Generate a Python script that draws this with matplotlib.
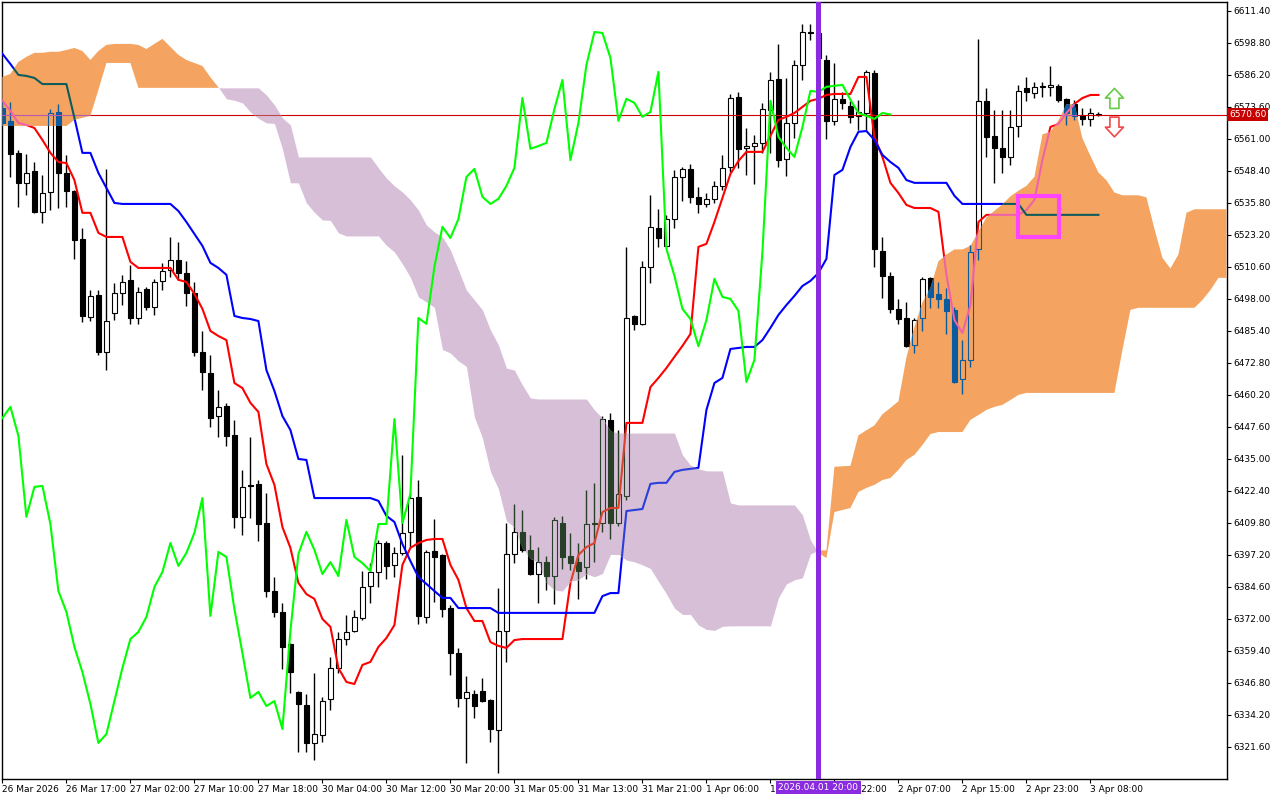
import numpy as np
import matplotlib
matplotlib.use('Agg')
import matplotlib.pyplot as plt
import matplotlib.transforms as mtransforms
from matplotlib.path import Path
from matplotlib.patches import PathPatch, Rectangle

plt.rcParams['font.family'] = 'DejaVu Sans'

# US500 H1 candles, 26 Mar 2026 .. 3 Apr 2026
opens = [6573.2, 6568.1, 6555.5, 6543.7, 6548.4, 6532.3, 6540.1, 6571.6, 6547.6, 6540.5,
         6521.6, 6490.9, 6499.6, 6477.1, 6492.5, 6500.4, 6505.5, 6490.5, 6501.9, 6494.9,
         6505.1, 6509.4, 6513.4, 6508.2, 6500.4, 6477.1, 6468.9, 6451.9, 6455.9, 6444.4,
         6412.2, 6424.8, 6425.2, 6409.8, 6383.0, 6374.8, 6362.2, 6343.3, 6338.1, 6323.2,
         6326.3, 6340.5, 6352.7, 6364.1, 6367.3, 6372.4, 6385.0, 6390.5, 6401.9, 6393.3,
         6398.0, 6406.3, 6420.0, 6372.8, 6398.8, 6397.2, 6376.3, 6358.6, 6340.9, 6342.5,
         6343.7, 6340.1, 6328.3, 6367.3, 6397.6, 6406.3, 6399.2, 6389.7, 6394.4, 6388.9,
         6409.8, 6396.8, 6394.4, 6392.5, 6409.8, 6409.8, 6450.4, 6409.8, 6420.4, 6491.3,
         6488.2, 6510.6, 6526.0, 6518.9, 6529.5, 6546.0, 6549.2, 6538.2, 6535.4, 6537.4,
         6542.5, 6550.0, 6577.5, 6557.5, 6558.2, 6559.4, 6572.4, 6584.6, 6553.1, 6567.3,
         6590.1, 6603.1, 6602.7, 6592.1, 6568.1, 6576.8, 6574.0, 6570.1, 6571.2, 6587.0,
         6516.9, 6507.1, 6494.1, 6490.5, 6479.9, 6490.5, 6506.3, 6500.0, 6498.0, 6493.7,
         6466.5, 6474.0, 6517.7, 6576.0, 6562.2, 6557.5, 6553.9, 6566.1, 6581.1, 6579.1,
         6581.5, 6581.5, 6581.9, 6576.8, 6574.8, 6570.5, 6568.9, 6570.9]
highs = [6576.4, 6575.6, 6556.7, 6555.1, 6551.9, 6546.8, 6572.8, 6574.8, 6554.7, 6541.0,
         6526.0, 6501.5, 6501.5, 6549.2, 6504.3, 6507.5, 6511.4, 6502.7, 6502.7, 6505.9,
         6512.2, 6522.4, 6520.4, 6513.0, 6504.7, 6485.4, 6476.0, 6462.2, 6457.1, 6450.4,
         6430.7, 6443.7, 6426.7, 6421.6, 6388.5, 6378.3, 6362.5, 6343.6, 6342.5, 6350.7,
         6341.3, 6357.0, 6366.9, 6373.6, 6375.5, 6390.9, 6394.0, 6403.1, 6402.7, 6400.3,
         6436.6, 6421.6, 6426.7, 6399.2, 6411.4, 6397.5, 6377.5, 6360.6, 6349.6, 6344.0,
         6348.8, 6340.4, 6384.2, 6409.8, 6417.3, 6414.9, 6405.1, 6400.3, 6396.8, 6412.2,
         6412.6, 6405.9, 6401.9, 6422.8, 6425.6, 6451.9, 6453.1, 6446.4, 6518.5, 6491.6,
         6513.0, 6539.0, 6533.4, 6531.1, 6548.8, 6550.0, 6551.2, 6542.1, 6539.7, 6544.5,
         6554.7, 6578.7, 6579.5, 6565.3, 6562.6, 6575.2, 6587.4, 6598.4, 6585.0, 6592.1,
         6606.3, 6606.3, 6604.0, 6594.1, 6590.9, 6579.5, 6576.0, 6576.4, 6588.2, 6588.2,
         6522.4, 6508.6, 6498.0, 6496.8, 6490.5, 6506.7, 6506.7, 6504.7, 6502.3, 6494.9,
         6481.8, 6519.3, 6600.4, 6581.1, 6572.4, 6572.4, 6572.4, 6582.3, 6585.4, 6583.4,
         6583.4, 6589.7, 6582.7, 6577.1, 6576.4, 6573.2, 6573.2, 6571.6]
lows = [6566.5, 6546.0, 6534.2, 6539.0, 6531.9, 6527.9, 6533.0, 6533.8, 6534.2, 6513.8,
        6488.9, 6489.3, 6476.0, 6470.0, 6489.7, 6495.6, 6488.2, 6488.2, 6493.7, 6491.7,
        6501.5, 6506.7, 6505.5, 6495.2, 6475.6, 6462.2, 6447.6, 6443.7, 6440.1, 6407.8,
        6405.1, 6411.8, 6402.7, 6380.7, 6372.8, 6352.3, 6342.9, 6319.6, 6319.6, 6316.5,
        6323.6, 6336.2, 6350.7, 6361.8, 6366.9, 6371.6, 6378.3, 6384.6, 6387.8, 6388.5,
        6397.2, 6400.3, 6370.0, 6370.4, 6378.7, 6372.8, 6350.0, 6337.4, 6315.3, 6333.0,
        6339.3, 6323.6, 6311.4, 6355.1, 6394.0, 6398.4, 6389.3, 6378.3, 6383.4, 6377.9,
        6391.7, 6391.3, 6379.9, 6387.8, 6394.4, 6406.3, 6403.5, 6408.6, 6418.9, 6485.8,
        6487.8, 6504.3, 6518.5, 6518.5, 6526.0, 6536.6, 6535.8, 6531.9, 6534.2, 6535.8,
        6540.9, 6548.0, 6549.6, 6546.8, 6543.3, 6555.5, 6555.5, 6550.0, 6546.4, 6561.4,
        6584.2, 6600.0, 6590.1, 6561.0, 6566.5, 6572.8, 6567.3, 6564.5, 6564.5, 6510.6,
        6498.4, 6492.5, 6488.2, 6479.1, 6476.7, 6485.4, 6494.5, 6494.5, 6484.2, 6464.9,
        6460.6, 6471.2, 6513.4, 6553.9, 6543.7, 6547.6, 6550.8, 6561.8, 6576.0, 6577.1,
        6577.5, 6577.9, 6575.6, 6566.5, 6568.5, 6566.5, 6566.1, 6570.1]
closes = [6567.3, 6555.1, 6543.7, 6547.6, 6532.3, 6539.7, 6571.2, 6547.6, 6540.5, 6521.2,
          6491.3, 6499.2, 6477.1, 6489.3, 6500.4, 6504.7, 6490.5, 6500.8, 6494.9, 6504.7,
          6509.0, 6513.4, 6508.2, 6500.4, 6477.1, 6469.3, 6451.1, 6455.5, 6444.1, 6412.2,
          6424.0, 6424.4, 6409.4, 6383.0, 6374.8, 6361.0, 6351.1, 6338.5, 6323.2, 6326.7,
          6339.7, 6352.7, 6364.1, 6366.9, 6372.8, 6384.6, 6390.5, 6401.9, 6392.9, 6398.0,
          6405.9, 6419.6, 6373.2, 6398.4, 6396.4, 6375.9, 6358.6, 6340.9, 6343.3, 6337.7,
          6339.7, 6328.7, 6367.3, 6397.6, 6406.3, 6399.2, 6389.7, 6394.4, 6388.9, 6411.0,
          6396.4, 6394.0, 6390.9, 6409.4, 6409.4, 6450.7, 6409.8, 6421.2, 6490.5, 6488.2,
          6510.6, 6526.4, 6522.0, 6529.5, 6546.0, 6549.2, 6538.2, 6535.4, 6537.4, 6542.5,
          6549.6, 6577.1, 6557.1, 6558.2, 6559.4, 6572.8, 6584.2, 6552.7, 6567.3, 6590.1,
          6603.1, 6602.7, 6592.9, 6568.1, 6576.8, 6575.2, 6569.7, 6571.6, 6587.4, 6517.7,
          6507.1, 6494.1, 6490.1, 6479.4, 6489.7, 6505.9, 6498.8, 6498.0, 6493.3, 6465.3,
          6474.0, 6516.5, 6576.0, 6561.8, 6557.5, 6553.9, 6565.7, 6579.9, 6579.5, 6581.5,
          6581.9, 6582.3, 6576.4, 6571.2, 6570.1, 6568.9, 6571.2, 6570.6]

# Ichimoku lines
tenkan = [6576.0, 6572.0, 6567.3, 6566.5, 6565.3, 6560.6, 6555.5, 6551.9, 6551.5, 6544.8,
          6531.9, 6531.9, 6524.0, 6522.4, 6522.4, 6522.4, 6512.6, 6510.2, 6510.2, 6510.2,
          6510.2, 6510.2, 6505.5, 6504.7, 6500.0, 6494.1, 6485.4, 6483.4, 6481.8, 6464.9,
          6462.9, 6457.1, 6453.5, 6433.0, 6424.8, 6408.2, 6400.0, 6386.2, 6381.8, 6379.9,
          6372.0, 6368.9, 6352.7, 6347.2, 6346.4, 6353.9, 6355.1, 6361.0, 6364.5, 6369.6,
          6393.3, 6400.0, 6401.9, 6403.1, 6403.5, 6403.5, 6393.3, 6387.4, 6376.3, 6371.2,
          6371.2, 6362.9, 6361.4, 6360.6, 6363.7, 6364.1, 6364.1, 6364.1, 6364.1, 6364.1,
          6364.1, 6386.2, 6397.2, 6400.3, 6401.9, 6414.1, 6415.7, 6415.7, 6449.2, 6449.2,
          6449.2, 6463.3, 6466.9, 6470.8, 6475.2, 6479.5, 6484.2, 6518.5, 6519.7, 6528.3,
          6537.8, 6547.2, 6552.3, 6555.9, 6555.9, 6555.9, 6562.2, 6568.5, 6569.7, 6571.2,
          6573.6, 6576.0, 6576.8, 6578.3, 6578.7, 6578.7, 6578.7, 6585.4, 6585.4, 6561.8,
          6553.9, 6543.7, 6539.7, 6535.0, 6533.8, 6533.8, 6533.8, 6532.3, 6507.5, 6489.7,
          6484.6, 6495.6, 6528.3, 6531.1, 6531.1, 6531.1, 6531.1, 6531.1, 6533.0, 6537.0,
          6552.7, 6565.7, 6566.9, 6571.2, 6574.8, 6577.1, 6578.3, 6578.3]
kijun = [6594.5, 6590.5, 6586.2, 6585.8, 6585.0, 6582.6, 6582.6, 6582.6, 6582.6, 6569.3,
         6555.5, 6555.5, 6547.6, 6541.7, 6535.8, 6535.4, 6535.4, 6535.4, 6535.4, 6535.4,
         6535.4, 6535.4, 6532.6, 6528.3, 6523.6, 6518.9, 6512.2, 6510.2, 6507.5, 6491.3,
         6490.5, 6490.1, 6489.3, 6470.0, 6461.8, 6451.9, 6446.4, 6435.0, 6434.6, 6419.6,
         6419.6, 6419.6, 6419.6, 6419.6, 6419.6, 6419.6, 6419.6, 6418.5, 6412.6, 6410.2,
         6401.5, 6394.8, 6388.5, 6385.8, 6383.0, 6380.3, 6380.3, 6376.3, 6376.3, 6376.3,
         6376.3, 6376.3, 6374.4, 6374.4, 6374.4, 6374.4, 6374.4, 6374.4, 6374.4, 6374.4,
         6374.4, 6374.4, 6374.4, 6374.4, 6374.4, 6381.0, 6382.2, 6382.2, 6414.5, 6414.9,
         6415.3, 6425.2, 6425.6, 6425.6, 6429.9, 6430.7, 6431.1, 6431.5, 6454.3, 6464.9,
         6466.9, 6478.3, 6478.7, 6479.1, 6479.1, 6481.8, 6486.6, 6491.7, 6495.6, 6499.2,
         6503.1, 6505.1, 6508.2, 6513.8, 6546.8, 6548.8, 6557.8, 6563.8, 6564.1, 6560.6,
         6554.7, 6551.9, 6549.6, 6544.8, 6543.7, 6543.7, 6543.7, 6543.7, 6543.7, 6538.6,
         6535.4, 6535.4, 6535.4, 6535.4, 6535.4, 6535.4, 6535.4, 6535.4, 6531.1, 6531.1,
         6531.1, 6531.1, 6531.1, 6531.1, 6531.1, 6531.1, 6531.1, 6531.1]
# Senkou spans, 26 bars ahead of the last candle (bars 0..153 on screen)
span_a = [6585.4, 6586.6, 6591.3, 6593.3, 6594.9, 6594.9, 6595.3, 6595.3, 6596.0, 6596.8,
          6595.6, 6592.1, 6595.6, 6598.0, 6598.4, 6598.4, 6598.4, 6598.0, 6596.4, 6598.4,
          6600.4, 6597.2, 6594.1, 6592.1, 6590.9, 6589.7,
          6585.3, 6581.3, 6576.8, 6576.2, 6575.2, 6571.6, 6569.1, 6567.3, 6567.1, 6557.1,
          6543.7, 6543.7, 6535.8, 6532.1, 6529.1, 6528.9, 6524.0, 6522.8, 6522.8, 6522.8,
          6522.8, 6522.8, 6519.1, 6516.5, 6511.8, 6506.5, 6498.8, 6496.8, 6494.7, 6478.1,
          6476.7, 6473.6, 6471.4, 6451.5, 6443.3, 6430.1, 6423.2, 6410.6, 6408.2, 6399.8,
          6395.8, 6394.3, 6386.2, 6383.4, 6383.0, 6386.8, 6387.4, 6389.8, 6388.6, 6389.9,
          6397.4, 6397.4, 6395.2, 6394.5, 6393.3, 6391.9, 6386.8, 6381.9, 6376.3, 6373.8,
          6373.8, 6369.6, 6367.9, 6367.5, 6369.1, 6369.3, 6369.3, 6369.3, 6369.3, 6369.3,
          6369.3, 6380.3, 6385.8, 6387.4, 6388.2, 6397.6, 6399.0, 6399.0, 6431.9, 6432.1,
          6432.3, 6444.3, 6446.3, 6448.2, 6452.6, 6455.1, 6457.7, 6475.0, 6487.0, 6496.6,
          6502.4, 6512.8, 6515.5, 6517.5, 6517.5, 6518.9, 6524.4, 6530.1, 6532.7, 6535.2,
          6538.4, 6540.6, 6542.5, 6546.1, 6562.8, 6563.8, 6568.3, 6574.6, 6574.8, 6561.2,
          6554.3, 6547.8, 6544.7, 6539.9, 6538.8, 6538.8, 6538.8, 6538.0, 6525.6, 6514.2,
          6510.0, 6515.5, 6531.9, 6533.3, 6533.3, 6533.3, 6533.3, 6533.3]
span_b = [6566.1, 6566.1, 6566.1, 6566.1, 6566.1, 6566.1, 6566.1, 6566.1, 6566.1, 6568.5,
          6569.3, 6570.1, 6580.3, 6590.9, 6590.9, 6590.9, 6590.9, 6581.1, 6581.1, 6581.1,
          6581.1, 6581.1, 6581.1, 6581.1, 6581.1, 6581.1, 6581.1, 6581.1, 6581.1, 6581.1,
          6581.1, 6581.1, 6581.1, 6578.3, 6574.4, 6569.3, 6566.5, 6553.9, 6553.9, 6553.9,
          6553.9, 6553.9, 6553.9, 6553.9, 6553.9, 6553.9, 6553.9, 6549.6, 6545.6, 6542.5,
          6540.1, 6537.0, 6533.0, 6527.1, 6524.4, 6522.4, 6517.3, 6509.4, 6501.5, 6497.6,
          6493.7, 6485.8, 6479.9, 6470.8, 6470.0, 6464.1, 6459.0, 6458.6, 6458.6, 6458.6,
          6458.6, 6458.6, 6458.6, 6458.6, 6454.3, 6451.1, 6446.0, 6445.2, 6445.2, 6445.2,
          6445.2, 6445.2, 6445.2, 6445.2, 6445.2, 6436.6, 6432.6, 6431.1, 6430.3, 6430.3,
          6430.3, 6417.7, 6416.9, 6416.9, 6416.9, 6416.9, 6416.9, 6416.9, 6416.9, 6416.9,
          6413.0, 6403.1, 6398.0, 6396.0, 6414.1, 6414.9, 6415.7, 6422.0, 6423.6, 6424.8,
          6426.7, 6427.5, 6430.7, 6434.6, 6436.6, 6440.5, 6444.8, 6445.6, 6445.6, 6445.6,
          6445.6, 6450.4, 6452.3, 6454.3, 6455.5, 6456.3, 6458.2, 6460.2, 6461.0, 6461.0,
          6461.0, 6461.0, 6461.0, 6461.0, 6461.0, 6461.0, 6461.0, 6461.0, 6461.0, 6461.0,
          6477.9, 6493.7, 6494.5, 6494.5, 6494.5, 6494.5, 6494.5, 6494.5, 6494.5, 6494.5,
          6497.6, 6501.5, 6506.3, 6506.3]

date_labels = ['26 Mar 2026', '26 Mar 17:00', '27 Mar 02:00', '27 Mar 10:00', '27 Mar 18:00',
               '30 Mar 04:00', '30 Mar 12:00', '30 Mar 20:00', '31 Mar 05:00', '31 Mar 13:00',
               '31 Mar 21:00', '1 Apr 06:00', '1 Apr 14:00', '1 Apr 22:00', '2 Apr 07:00',
               '2 Apr 15:00', '2 Apr 23:00', '3 Apr 08:00']
price_ticks = [6321.6, 6334.2, 6346.8, 6359.4, 6372.0, 6384.6, 6397.2, 6409.8, 6422.4, 6435.0,
               6447.6, 6460.2, 6472.8, 6485.4, 6498.0, 6510.6, 6523.2, 6535.8, 6548.4, 6561.0,
               6573.6, 6586.2, 6598.8, 6611.4]
marked_bar = 102  # 2026.04.01 20:00
marked_label = '2026.04.01 20:00'

o = np.array(opens); h = np.array(highs); l = np.array(lows); c = np.array(closes)
x = np.arange(len(c))
xs = np.arange(len(span_a))
top = np.maximum(o, c)
bot = np.minimum(o, c)
up = c > o

fig = plt.figure(figsize=(12.8, 8), dpi=100, facecolor='white')
ax = fig.add_axes([2 / 1280, 21 / 800, 1225 / 1280, 777 / 800])


def candles(edge, fill_dn, fill_up, z, clip=None):
    arts = [ax.vlines(x, top, h, colors=edge, lw=1, zorder=z),
            ax.vlines(x, l, bot, colors=edge, lw=1, zorder=z)]
    bars = ax.bar(x, np.maximum(top - bot, 0.25), bottom=bot, width=0.62,
                  color=[fill_up if u else fill_dn for u in up], edgecolor=edge,
                  linewidth=0.8, zorder=z + 0.1)
    arts.extend(bars.patches)
    if clip is not None:
        for a in arts:
            a.set_clip_path(clip)


candles('black', 'black', 'white', 2)
ax.plot(x, tenkan, color='#ff0000', lw=1.5, zorder=2.6)
ax.plot(x, kijun, color='#0000ff', lw=1.5, zorder=2.6)
ax.axhline(closes[-1], color='#d00000', lw=0.8, zorder=2.5)

# cloud, drawn over candles; what lies under it shows in other colours
a = np.array(span_a); b = np.array(span_b)
orange = ax.fill_between(xs, a, b, where=a >= b, interpolate=True, color='#f4a460', lw=0, zorder=3)
thistle = ax.fill_between(xs, a, b, where=a < b, interpolate=True, color='#d8bfd8', lw=0, zorder=3)

for coll, inv, tcol, kcol, pcol in [(orange, '#0b5b9f', '#f062a8', '#105c5c', '#b85ab0'),
                                    (thistle, '#274027', '#d9442f', '#2b3fd9', '#c04848')]:
    clip = PathPatch(Path.make_compound_path(*coll.get_paths()), transform=ax.transData)
    candles(inv, inv, 'none', 3.4, clip)
    for vals, col in ((tenkan, tcol), (kijun, kcol)):
        ln, = ax.plot(x, vals, color=col, lw=1.5, zorder=3.8)
        ln.set_clip_path(clip)
    ln = ax.axhline(closes[-1], color=pcol, lw=0.8, zorder=3.7)
    ln.set_clip_path(clip)

# chikou span: close shifted back 26 bars
ax.plot(x[:-26], c[26:], color='#00ff00', lw=1.5, zorder=5)

ax.axvline(marked_bar, color='#8a2be2', lw=3.6, zorder=6)

# signal marker and arrows
ax.add_patch(Rectangle((126.95, 6522.4), 5.1, 16.2, fill=False, ec='#ff44ff', lw=3, zorder=7))
style = 'simple,head_length=0.7,head_width=1.3,tail_width=0.65'
ax.annotate('', xy=(139, 6580.9), xytext=(139, 6573.0),
            arrowprops=dict(arrowstyle=style, fc='white', ec='#66cc44', lw=1.2,
                            mutation_scale=10, shrinkA=0, shrinkB=0), zorder=7)
ax.annotate('', xy=(139, 6561.8), xytext=(139, 6569.6),
            arrowprops=dict(arrowstyle=style, fc='white', ec='#f04848', lw=1.2,
                            mutation_scale=10, shrinkA=0, shrinkB=0), zorder=7)

ax.set_xlim(-0.05, 153.07)
ax.set_ylim(6309.0, 6614.9)
ax.yaxis.tick_right()
ax.set_yticks(price_ticks)
ax.set_yticklabels([f'{v:.2f}' for v in price_ticks])
ax.set_xticks(np.arange(0, len(c), 8))
ax.set_xticklabels(date_labels, ha='left')
ax.tick_params(axis='y', direction='out', length=3, pad=1.5, labelsize=6.5, width=0.8)
ax.tick_params(axis='x', direction='out', length=3, pad=1.5, labelsize=6.5, width=0.8)
for s in ax.spines.values():
    s.set_linewidth(1)
    s.set_color('black')

ax.text(1.0 + 2 / 1225, closes[-1], f'{closes[-1]:.2f}',
        transform=mtransforms.blended_transform_factory(ax.transAxes, ax.transData),
        ha='left', va='center', color='white', fontsize=6.5, clip_on=False, zorder=10,
        bbox=dict(facecolor='#c80000', edgecolor='none', pad=1.2))
ax.text(marked_bar, -0.0055, marked_label,
        transform=mtransforms.blended_transform_factory(ax.transData, ax.transAxes),
        ha='center', va='top', color='white', fontsize=6.5, clip_on=False, zorder=10,
        bbox=dict(facecolor='#8a2be2', edgecolor='none', pad=1.5))

fig.savefig('out.png', dpi=100, facecolor='white')
